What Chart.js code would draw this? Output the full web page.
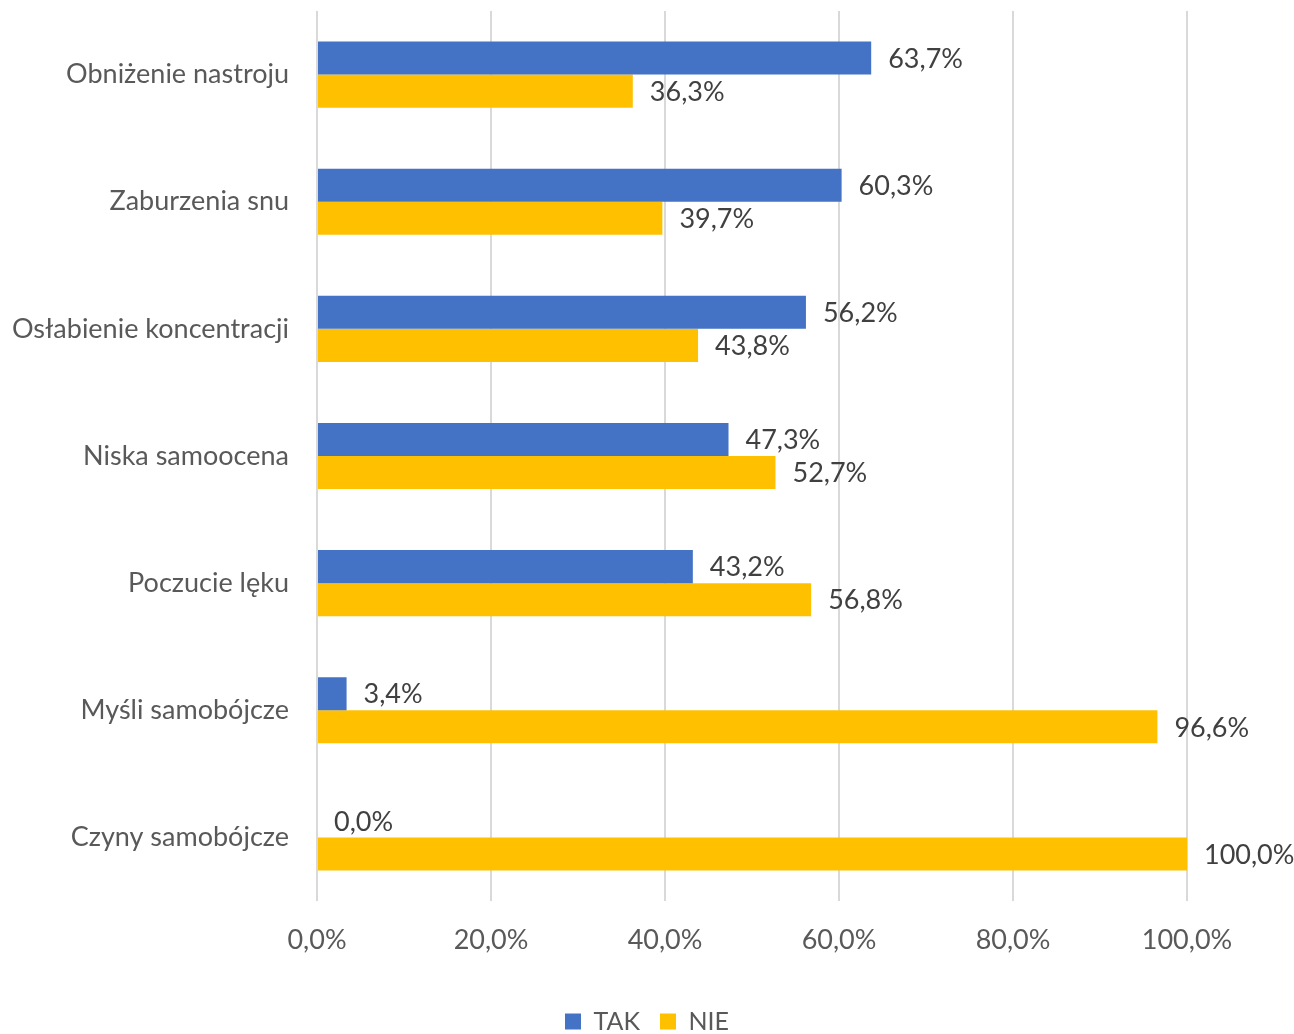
<html>
    <head>
        <meta charset="utf-8">
        <script src="https://cdn.jsdelivr.net/npm/chart.js"></script>
        <style>
            body { margin: 0; background: #fff; }
        </style>
    </head>
    <body>
        <canvas id="symptomsChart" width="1294" height="1034"></canvas>

        <script>
            const CATEGORIES = [
                'Obniżenie nastroju',
                'Zaburzenia snu',
                'Osłabienie koncentracji',
                'Niska samoocena',
                'Poczucie lęku',
                'Myśli samobójcze',
                'Czyny samobójcze',
            ]
            const TAK = [63.7, 60.3, 56.2, 47.3, 43.2, 3.4, 0.0]
            const NIE = [36.3, 39.7, 43.8, 52.7, 56.8, 96.6, 100.0]
            const X_TICKS = [0, 20, 40, 60, 80, 100]

            const FONT = 'Lato, "Open Sans", sans-serif'

            function fmt(v) {
                return v.toFixed(1).replace('.', ',') + '%'
            }

            // labels at the end of each bar
            const barLabels = {
                id: 'barLabels',
                afterLayout(chart) {
                    // legend centred on the whole canvas, near the bottom edge
                    const lg = chart.legend
                    lg.left = 0
                    lg.right = chart.width
                    lg.width = chart.width
                    lg.top = 989
                    lg.bottom = 989 + lg.height
                },
                afterDatasetsDraw(chart) {
                    const ctx = chart.ctx
                    ctx.save()
                    ctx.font = `27px ${FONT}`
                    ctx.fillStyle = '#404040'
                    ctx.textAlign = 'left'
                    ctx.textBaseline = 'middle'
                    chart.data.datasets.forEach((ds, i) => {
                        chart.getDatasetMeta(i).data.forEach((bar, j) => {
                            ctx.fillText(fmt(ds.data[j]), bar.x + 17, bar.y + 1)
                        })
                    })
                    ctx.restore()
                },
            }

            new Chart(document.getElementById('symptomsChart'), {
                type: 'bar',
                data: {
                    labels: CATEGORIES,
                    datasets: [
                        { label: 'TAK', data: TAK, backgroundColor: '#4472C4' },
                        { label: 'NIE', data: NIE, backgroundColor: '#FFC000' },
                    ],
                },
                options: {
                    indexAxis: 'y',
                    responsive: false,
                    animation: false,
                    datasets: {
                        bar: { barPercentage: 1, categoryPercentage: 0.52 },
                    },
                    layout: { padding: { top: 11, right: 107, left: 0, bottom: 0 } },
                    scales: {
                        x: {
                            min: 0,
                            max: 100,
                            afterBuildTicks: (axis) => {
                                axis.ticks = X_TICKS.map((v) => ({ value: v }))
                            },
                            afterFit: (axis) => {
                                axis.height = 78
                            },
                            grid: { color: '#d9d9d9', lineWidth: 2, drawTicks: false },
                            border: { display: false },
                            ticks: {
                                padding: 23,
                                color: '#595959',
                                font: { family: FONT, size: 27 },
                                callback: (v) => fmt(v),
                            },
                        },
                        y: {
                            afterFit: (axis) => {
                                axis.width = 317
                                axis.paddingTop = 0
                                axis.paddingBottom = 0
                            },
                            grid: { display: false, drawTicks: false },
                            border: { display: false },
                            ticks: {
                                padding: 28,
                                color: '#595959',
                                font: { family: FONT, size: 27 },
                            },
                        },
                    },
                    plugins: {
                        legend: {
                            position: 'bottom',
                            labels: {
                                boxWidth: 16,
                                boxHeight: 16,
                                padding: 20,
                                color: '#595959',
                                font: { family: FONT, size: 25 },
                            },
                        },
                        tooltip: { enabled: false },
                    },
                },
                plugins: [barLabels],
            })
        </script>
    </body>
</html>
